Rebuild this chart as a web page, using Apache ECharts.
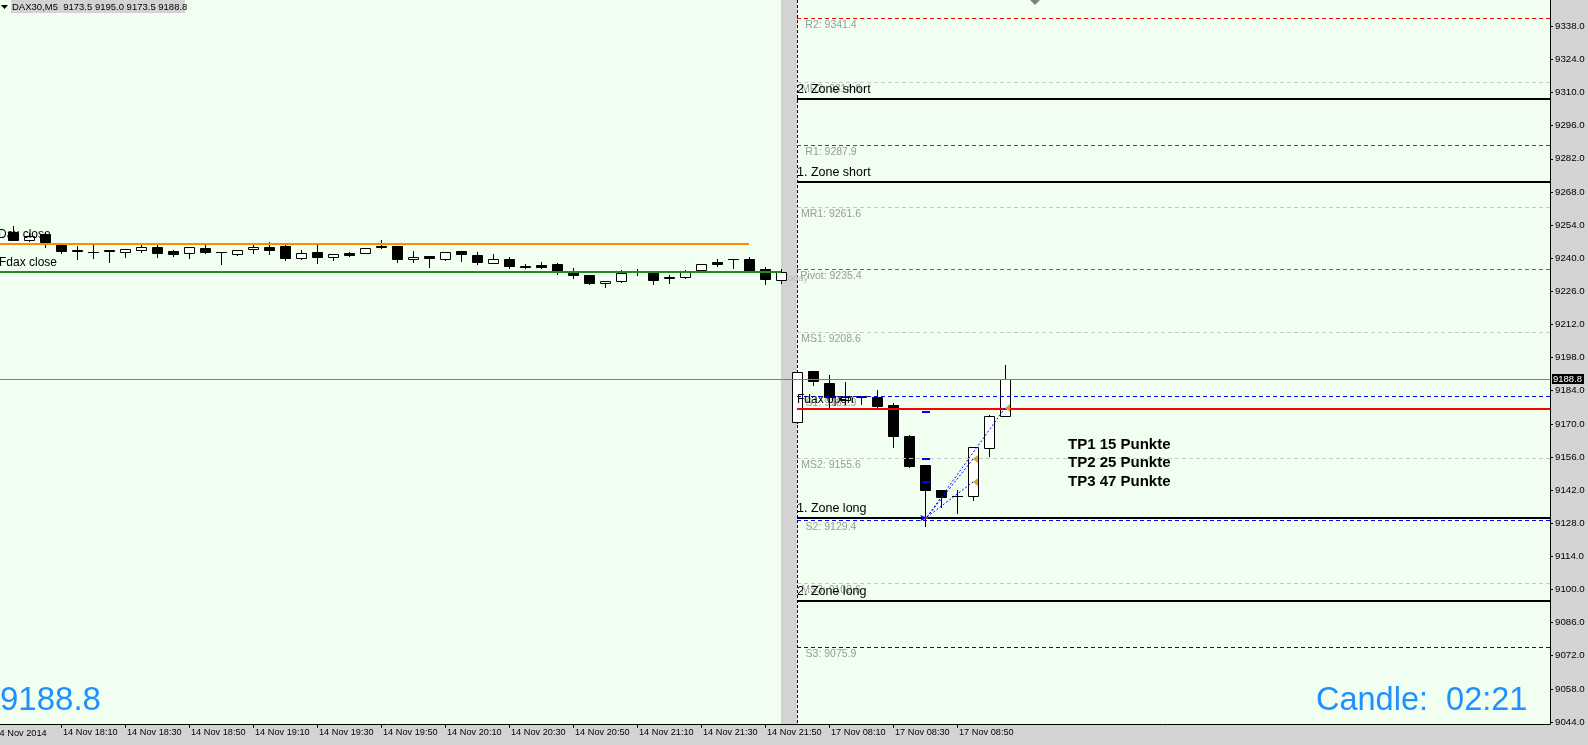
<!DOCTYPE html>
<html><head><meta charset="utf-8">
<script src="https://cdn.jsdelivr.net/npm/echarts@6/dist/echarts.min.js"></script>
<style>html,body{margin:0;padding:0;background:#D4D4D4;overflow:hidden}#c{width:1588px;height:745px}</style>
</head><body><div id="c"></div><script>
// ---------------- DATA ----------------
const friTimes = ['17:55','18:00','18:05','18:10','18:15','18:20','18:25','18:30','18:35','18:40','18:45','18:50','18:55',
 '19:00','19:05','19:10','19:15','19:20','19:25','19:30','19:35','19:40','19:45','19:50','19:55',
 '20:00','20:05','20:10','20:15','20:20','20:25','20:30','20:35','20:40','20:45','20:50','20:55',
 '21:00','21:05','21:10','21:15','21:20','21:25','21:30','21:35','21:40','21:45','21:50','21:55'];
const monTimes = ['08:00','08:05','08:10','08:15','08:20','08:25','08:30','08:35','08:40','08:45','08:50','08:55','09:00','09:05'];

const friO = [9251.2,9247.7,9250.2,9245.6,9243.3,9242.6,9243.3,9242.8,9243.6,9244.6,9243.0,9242.1,9244.2,9242.6,9241.6,9243.8,9244.9,9245.1,9239.9,9242.8,9240.6,9242.3,9242.1,9245.0,9245.1,9239.6,9240.9,9239.5,9243.0,9241.3,9237.9,9239.6,9236.8,9237.1,9237.5,9234.0,9232.9,9229.4,9230.5,9234.3,9234.0,9231.9,9231.9,9234.8,9238.2,9239.6,9239.6,9235.5,9230.6];
const friH = [9253.5,9250.5,9250.5,9246.0,9245.3,9245.6,9243.3,9244.0,9245.9,9245.6,9243.4,9244.7,9245.6,9242.6,9243.6,9246.3,9247.0,9245.6,9243.5,9245.6,9241.7,9242.8,9244.5,9247.7,9245.2,9243.0,9241.0,9242.6,9243.1,9242.5,9241.6,9240.6,9237.6,9238.2,9238.1,9236.0,9233.0,9230.5,9235.0,9235.3,9234.1,9232.9,9235.0,9237.6,9239.6,9239.6,9240.4,9236.1,9235.4];
const friL = [9247.5,9247.4,9244.9,9242.1,9239.5,9240.2,9238.5,9240.6,9242.5,9240.6,9241.1,9240.2,9242.4,9237.4,9241.5,9242.1,9241.6,9239.2,9239.8,9237.9,9239.2,9240.8,9242.0,9244.2,9238.5,9238.2,9236.1,9239.2,9239.0,9237.4,9237.8,9236.0,9236.0,9235.7,9233.3,9231.8,9229.3,9228.0,9230.0,9232.9,9229.1,9229.6,9231.8,9234.7,9236.8,9236.0,9234.2,9229.1,9229.4];
const friC = [9247.7,9249.5,9246.7,9243.2,9243.2,9242.5,9243.1,9243.9,9244.7,9242.3,9241.9,9244.6,9242.5,9242.5,9243.5,9244.9,9243.5,9239.9,9242.1,9240.6,9241.6,9241.2,9244.4,9244.9,9239.5,9240.6,9239.9,9242.5,9241.6,9238.2,9239.6,9236.8,9236.1,9236.4,9234.6,9232.9,9229.4,9230.4,9233.6,9234.2,9230.8,9231.8,9234.0,9237.5,9237.5,9239.5,9234.3,9231.1,9234.0];

const monO = [9170.6,9192.3,9187.3,9180.0,9181.8,9181.2,9177.8,9164.9,9152.5,9142.0,9139.6,9139.7,9159.6,9173.5];
const monH = [9191.9,9192.4,9190.7,9187.5,9181.9,9184.3,9178.7,9165.3,9152.6,9142.1,9142.0,9160.1,9173.8,9195.0];
const monL = [9170.5,9186.3,9176.5,9178.4,9178.4,9176.5,9160.3,9151.6,9127.0,9135.0,9132.4,9137.8,9156.2,9173.5];
const monC = [9191.8,9188.2,9181.5,9181.5,9181.2,9177.6,9165.0,9152.3,9142.0,9139.2,9139.5,9160.0,9173.5,9188.8];

const xTickLabels = ['14 Nov 18:10','14 Nov 18:30','14 Nov 18:50','14 Nov 19:10','14 Nov 19:30','14 Nov 19:50','14 Nov 20:10',
 '14 Nov 20:30','14 Nov 20:50','14 Nov 21:10','14 Nov 21:30','14 Nov 21:50','17 Nov 08:10','17 Nov 08:30','17 Nov 08:50'];
const yTicks = [9044,9058,9072,9086,9100,9114,9128,9142,9156,9170,9184,9198,9212,9226,9240,9254,9268,9282,9296,9310,9324,9338];

const pivotNames  = ['R2','MR2','R1','MR1','Pivot','MS1','S1','MS2','S2','MS3','S3'];
const pivotValues = [9341.4,9314.6,9287.9,9261.6,9235.4,9208.6,9181.9,9155.6,9129.4,9102.6,9075.9];
const zoneNames  = ['2. Zone short','1. Zone short','1. Zone long','2. Zone long'];
const zoneValues = [9307.2,9272.3,9130.3,9095.3];
const fdaxOpen = 9176.4, fdaxClose = 9234.3, daxClose = 9246.0;

const tradeEntry = [57, 9130.3];
const tradeExits = [[60, 9145.3],[60, 9155.3],[62, 9176.6]];
const tpMarks = [9175.1, 9155.1, 9145.3];
const notes = [['TP1 15 Punkte', 65.94, 9161.1],['TP2 25 Punkte', 65.94, 9153.3],['TP3 47 Punkte', 65.94, 9145.3]];
const candleTimer = 'Candle:  02:21';

// ---------------- BUILD ----------------
const XMIN = -0.8125, XMAX = 96.0625, YMIN = 9043.15, YMAX = 9349.11;
const barLabels = friTimes.map(t => '14 Nov ' + t).concat(monTimes.map(t => '17 Nov ' + t));
const tickIdx = xTickLabels.map(l => barLabels.indexOf(l));
const friEnd = friTimes.length - 1, monStart = friTimes.length;
const candles = [];
friTimes.forEach((t, i) => candles.push([i, friO[i], friH[i], friL[i], friC[i]]));
monTimes.forEach((t, i) => candles.push([monStart + i, monO[i], monH[i], monL[i], monC[i]]));
const last = candles[candles.length - 1];
const bid = last[4];

const levelStyle = {
  res: {stroke:'#FF0000', w:1, dash:[4,3]}, mid: {stroke:'#C8C8C8', w:1, dash:[4,3]},
  pivot: {stroke:'#FF00FF', w:1, dash:[4,3]}, sup: {stroke:'#0000FF', w:1, dash:[4,3]},
  zone: {stroke:'#000000', w:2}, fopen: {stroke:'#FF0000', w:2}, fclose: {stroke:'#228B22', w:2},
  dclose: {stroke:'#FF8C00', w:2}, bid: {stroke:'#808080', w:1}
};
const levels = [];
levels.push({x1: XMIN, x2: XMAX, v: bid, k: 'bid'});
levels.push({x1: XMIN, x2: friEnd - 2, v: daxClose, k: 'dclose'});
levels.push({x1: XMIN, x2: friEnd, v: fdaxClose, k: 'fclose'});
pivotNames.forEach((n, i) => levels.push({x1: monStart, x2: XMAX, v: pivotValues[i],
  k: n === 'Pivot' ? 'pivot' : n[0] === 'M' ? 'mid' : n[0] === 'R' ? 'res' : 'sup'}));
zoneValues.forEach(v => levels.push({x1: monStart, x2: XMAX, v, k: 'zone'}));
levels.push({x1: monStart, x2: XMAX, v: fdaxOpen, k: 'fopen'});

const F = 'Liberation Sans, Arial, sans-serif';
const pivotTexts = [], texts = [];
pivotNames.forEach((n, i) => pivotTexts.push({x: monStart, v: pivotValues[i], dx: 34, dy: 7, align: 'center',
  text: n + ': ' + pivotValues[i].toFixed(1), font: '10.5px ' + F, color: '#9A9A9A'}));
pivotTexts.push({x: friEnd, v: fdaxClose, dx: 2, dy: 6, align: 'left', text: 'Today', font: '9.5px ' + F, color: '#B8B8B8'});
zoneNames.forEach((n, i) => texts.push({x: monStart, v: zoneValues[i], dx: 0, dy: -9, align: 'left', text: n, font: '12.5px ' + F, color: '#000'}));
texts.push({x: monStart, v: fdaxOpen, dx: 0, dy: -9, align: 'left', text: 'Fdax open', font: '12px ' + F, color: '#000'});
texts.push({x: XMIN, v: fdaxClose, dx: -1, dy: -9, align: 'left', text: 'Fdax close', font: '12px ' + F, color: '#000'});
texts.push({x: XMIN, v: daxClose, dx: -2, dy: -9, align: 'left', text: 'Dax close', font: '12px ' + F, color: '#000'});
notes.forEach(n => texts.push({x: n[1], v: n[2], dx: 0, dy: 0, align: 'left', text: n[0], font: 'bold 15px ' + F, color: '#000'}));

function candleItem(params, api) {
  const i = api.value(0), o = api.value(1), h = api.value(2), l = api.value(3), c = api.value(4);
  const po = api.coord([i, o]), pc = api.coord([i, c]), ph = api.coord([i, h]), pl = api.coord([i, l]);
  const x = Math.round(po[0]);
  const bw = 10, half = 5;
  const top = Math.round(Math.min(po[1], pc[1])), bot = Math.round(Math.max(po[1], pc[1]));
  const ch = [{type: 'line', shape: {x1: x + 0.5, y1: Math.round(ph[1]), x2: x + 0.5, y2: Math.round(pl[1]) + 1},
    style: {stroke: '#000', lineWidth: 1}}];
  if (bot - top < 1) {
    ch.push({type: 'line', shape: {x1: x - half, y1: top + 0.5, x2: x + half + 1, y2: top + 0.5}, style: {stroke: '#000', lineWidth: 1}});
  } else {
    ch.push({type: 'rect', shape: {x: x - half + 0.5, y: top + 0.5, width: bw, height: bot - top},
      style: {fill: c >= o ? '#FFFFFF' : '#000000', stroke: '#000', lineWidth: 1}});
  }
  return {type: 'group', children: ch};
}

function levelItem(params, api) {
  const L = levels[params.dataIndex], s = levelStyle[L.k];
  const p1 = api.coord([L.x1, L.v]), p2 = api.coord([L.x2, L.v]);
  const y = s.w === 1 ? Math.round(p1[1]) + 0.5 : Math.round(p1[1]);
  return {type: 'line', shape: {x1: Math.round(p1[0]), y1: y, x2: Math.round(p2[0]), y2: y},
    style: {stroke: s.stroke, lineWidth: s.w, lineDash: s.dash || null}};
}

function makeTextItem(list) {
  return function (params, api) {
    const T = list[params.dataIndex];
    const p = api.coord([T.x, T.v]);
    return {type: 'text', x: Math.round(p[0]) + T.dx, y: Math.round(p[1]) + T.dy,
      style: {text: T.text, font: T.font, fill: T.color, align: T.align, verticalAlign: 'middle'}};
  };
}

function bandItem(params, api) {
  const a = api.coord([friEnd, YMAX]), b = api.coord([monStart, YMIN]);
  const x0 = Math.round(a[0]), x1 = Math.round(b[0]);
  return {type: 'group', children: [
    {type: 'rect', shape: {x: x0, y: a[1], width: x1 - x0, height: b[1] - a[1]}, style: {fill: '#D3D3D3'}},
    {type: 'line', shape: {x1: x1 + 0.5, y1: a[1], x2: x1 + 0.5, y2: b[1]}, style: {stroke: '#000', lineWidth: 1, lineDash: [3, 2]}}
  ]};
}

function tradeItem(params, api) {
  const e = api.coord(tradeEntry);
  const ex = Math.round(e[0]), ey = Math.round(e[1]);
  const ch = [];
  tradeExits.forEach(t => {
    const p = api.coord(t);
    ch.push({type: 'line', shape: {x1: ex + 2, y1: ey - 1, x2: Math.round(p[0]), y2: Math.round(p[1])},
      style: {stroke: '#0000FF', lineWidth: 1, lineDash: [2, 2]}});
  });
  tpMarks.forEach(v => {
    const p = api.coord([tradeEntry[0], v]);
    ch.push({type: 'line', shape: {x1: ex - 3, y1: Math.round(p[1]), x2: ex + 5, y2: Math.round(p[1])},
      style: {stroke: '#0000FF', lineWidth: 2}});
  });
  tradeExits.forEach(t => {
    const p = api.coord(t);
    const px = Math.round(p[0]), py = Math.round(p[1]);
    ch.push({type: 'polygon', shape: {points: [[px, py], [px + 5, py - 4], [px + 5, py + 4]]}, style: {fill: '#DAA520'}});
  });
  ch.push({type: 'polygon', shape: {points: [[ex - 5, ey - 3], [ex + 3, ey], [ex - 5, ey + 3], [ex - 3, ey]]}, style: {fill: '#0000FF'}});
  ch.push({type: 'rect', shape: {x: ex, y: ey - 1, width: 3, height: 2}, style: {fill: '#FF0000'}});
  return {type: 'group', children: ch};
}

function bidLabelItem(params, api) {
  const p = api.coord([XMAX, bid]);
  const y = Math.round(p[1]);
  return {type: 'group', children: [
    {type: 'rect', shape: {x: 1552, y: y - 5, width: 32, height: 10}, style: {fill: '#000'}},
    {type: 'text', x: 1553, y: y, style: {text: bid.toFixed(1), font: '9.5px ' + F, fill: '#FFF', align: 'left', verticalAlign: 'middle'}}
  ]};
}

const chart = echarts.init(document.getElementById('c'), null, {renderer: 'canvas'});
chart.setOption({
  animation: false,
  backgroundColor: '#D4D4D4',
  grid: {left: 0, top: 0, width: 1550, height: 724, show: true, backgroundColor: '#F0FFF0', borderWidth: 0},
  xAxis: {
    type: 'value', min: XMIN, max: XMAX, position: 'bottom',
    axisLine: {show: true, onZero: false, lineStyle: {color: '#000', width: 1}},
    axisTick: {show: true, customValues: tickIdx, length: 4, lineStyle: {color: '#000'}},
    axisLabel: {show: true, customValues: tickIdx, formatter: v => barLabels[Math.round(v)] || '',
      align: 'left', color: '#000', fontSize: 9.2, fontFamily: F, margin: 4, padding: [0, 0, 0, 2]},
    splitLine: {show: false}
  },
  yAxis: {
    type: 'value', min: YMIN, max: YMAX, position: 'right',
    axisLine: {show: true, onZero: false, lineStyle: {color: '#000', width: 1}},
    axisTick: {show: true, customValues: yTicks, length: 3, lineStyle: {color: '#000'}},
    axisLabel: {show: true, customValues: yTicks, formatter: v => Number(v).toFixed(1),
      color: '#000', fontSize: 9.7, fontFamily: F, margin: 5},
    splitLine: {show: false}
  },
  series: [
    {type: 'custom', z: 1, silent: true, clip: false, renderItem: bandItem, data: [[friEnd, monStart]]},
    {type: 'custom', z: 2, silent: true, clip: false, renderItem: makeTextItem(pivotTexts), data: pivotTexts.map(t => [t.x, t.v])},
    {type: 'custom', z: 3, silent: true, clip: true, renderItem: candleItem, data: candles, encode: {x: 0, y: [1, 2, 3, 4]}},
    {type: 'custom', z: 4, silent: true, clip: false, renderItem: levelItem, data: levels.map(l => [l.x1, l.v])},
    {type: 'custom', z: 5, silent: true, clip: false, renderItem: makeTextItem(texts), data: texts.map(t => [t.x, t.v])},
    {type: 'custom', z: 6, silent: true, clip: false, renderItem: tradeItem, data: [tradeEntry]},
    {type: 'custom', z: 7, silent: true, clip: false, renderItem: bidLabelItem, data: [[XMAX, bid]]}
  ],
  graphic: [
    {type: 'polygon', shape: {points: [[1, 5], [8, 5], [4.5, 9]]}, style: {fill: '#000'}, z: 100},
    {type: 'rect', shape: {x: 11, y: 0, width: 174, height: 13}, style: {fill: '#D3D3D3'}, z: 100},
    {type: 'text', x: 12, y: 7, style: {text: 'DAX30,M5  ' + last[1].toFixed(1) + ' ' + last[2].toFixed(1) + ' ' + last[3].toFixed(1) + ' ' + last[4].toFixed(1),
      font: '9.5px ' + F, fill: '#000', verticalAlign: 'middle'}, z: 101},
    {type: 'text', x: 0, y: 701, style: {text: bid.toFixed(1), font: '33px ' + F, fill: '#1E90FF', verticalAlign: 'middle'}, z: 100},
    {type: 'text', x: 1316, y: 701, style: {text: candleTimer, font: '32.5px ' + F, fill: '#1E90FF', verticalAlign: 'middle'}, z: 100},
    {type: 'text', x: -5.5, y: 733, style: {text: '14 Nov 2014', font: '9.2px ' + F, fill: '#000', verticalAlign: 'middle'}, z: 100},
    {type: 'polygon', shape: {points: [[1030, 0], [1040, 0], [1035, 5]]}, style: {fill: '#808080'}, z: 100}
  ]
});
</script></body></html>
